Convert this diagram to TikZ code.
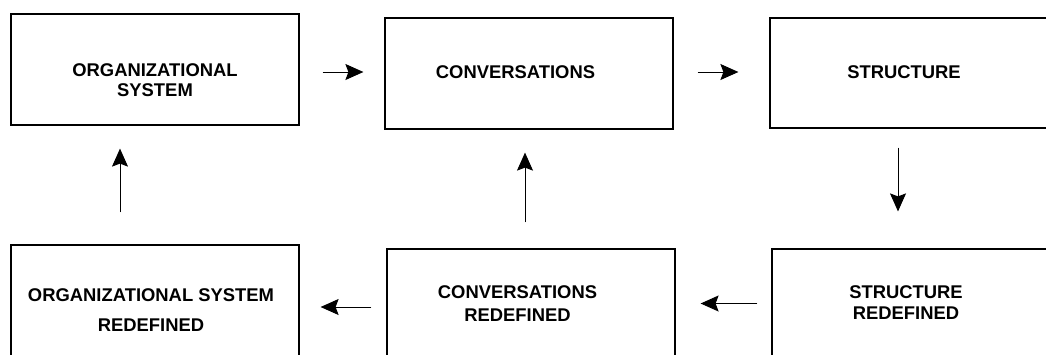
\documentclass[tikz,border=0pt]{standalone}
\usepackage{fontspec}
\setmainfont{Liberation Sans}
\usetikzlibrary{arrows.meta}
\begin{document}
\begin{tikzpicture}[x=1pt,y=-1pt,
  box/.style={draw=black,line width=1.2pt,rectangle,inner sep=0pt,minimum width=288pt,minimum height=111pt},
  txt/.style={font=\bfseries\fontsize{18.4}{20}\selectfont,align=center,inner sep=0pt},
  arr/.style={line width=1pt,-{Stealth[length=18pt,width=16pt,inset=3pt]}}]
\useasboundingbox (0,0) rectangle (1046,354);
\clip (0,0) rectangle (1046,354);
% top row
\node[box] (b1) at (155,69.5) {};
\node[box] (b2) at (529,73.5) {};
\node[box,minimum width=280pt,minimum height=110pt] (b3) at (910,73) {};
% bottom row (runs past the lower edge)
\node[box,minimum height=130pt] (b4) at (155,310) {};
\node[box,minimum height=130pt] (b5) at (531,314) {};
\node[box,minimum width=280pt,minimum height=130pt] (b6) at (912,314) {};
% labels
\node[txt] (t1) at (155,80) {ORGANIZATIONAL\\SYSTEM};
\node[txt] (t2) at (515.5,72) {CONVERSATIONS};
\node[txt] (t3) at (904,72) {STRUCTURE};
\node[txt,font=\bfseries\fontsize{18.4}{30}\selectfont] (t4) at (151,310) {ORGANIZATIONAL SYSTEM\\REDEFINED};
\node[txt,font=\bfseries\fontsize{18.4}{23}\selectfont] (t5) at (517.5,303.5) {CONVERSATIONS\\REDEFINED};
\node[txt,font=\bfseries\fontsize{18.4}{21}\selectfont] (t6) at (906,302.5) {STRUCTURE\\REDEFINED};
% cycle arrows
\draw[arr,shorten <=23pt,shorten >=21pt] (b1.east |- t2) -- (b2.west |- t2);
\draw[arr,shorten <=24pt,shorten >=31pt] (b2.east |- t2) -- (b3.west |- t2);
\draw[arr,shorten <=19pt,shorten >=37pt] (b3.south -| 898,0) -- (b6.north -| 898,0);
\draw[arr,shorten <=14pt,shorten >=25pt] (b6.west |- t5) -- (b5.east |- t5);
\draw[arr,shorten <=26pt,shorten >=23pt] (b5.north -| 525,0) -- (b2.south -| 525,0);
\draw[arr,shorten <=15pt,shorten >=21pt] (b5.west |- 0,307) -- (b4.east |- 0,307);
\draw[arr,shorten <=32pt,shorten >=23pt] (b4.north -| 120,0) -- (b1.south -| 120,0);
\end{tikzpicture}
\end{document}
